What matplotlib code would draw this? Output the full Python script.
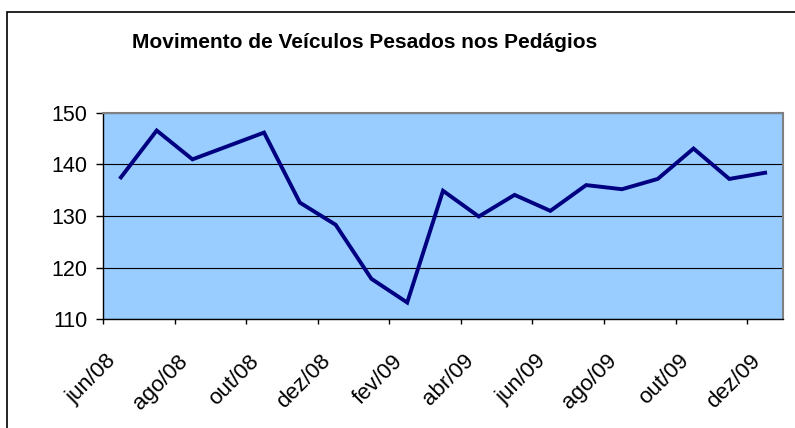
import matplotlib
matplotlib.use("Agg")
import matplotlib.pyplot as plt
import matplotlib.transforms as mtransforms
from matplotlib.patches import Rectangle
import numpy as np

# Monthly data, jun/08 .. dez/09
MONTHS = [
    "jun/08", "jul/08", "ago/08", "set/08", "out/08", "nov/08", "dez/08",
    "jan/09", "fev/09", "mar/09", "abr/09", "mai/09", "jun/09", "jul/09",
    "ago/09", "set/09", "out/09", "nov/09", "dez/09",
]
VALUES = [
    137.5, 146.6, 141.0, 143.6, 146.2, 132.6, 128.3,
    117.8, 113.2, 134.9, 129.9, 134.1, 131.0, 136.0,
    135.2, 137.2, 143.1, 137.2, 138.4,
]
Y_TICKS = [110, 120, 130, 140, 150]
TITLE = "Movimento de Veículos Pesados nos Pedágios"

plt.rcParams["font.family"] = ["Liberation Sans", "DejaVu Sans"]

fig = plt.figure(figsize=(7.95, 4.28), dpi=100)
ax = fig.add_axes([103 / 795, 1 - 319 / 428, 680 / 795, 206 / 428])

x = np.arange(len(MONTHS))
ax.set_facecolor("#99CCFF")
ax.plot(x, VALUES, color="#000080", linewidth=2.8, solid_joinstyle="miter", zorder=3)

ax.set_xlim(-0.5, len(MONTHS) - 0.5)
ax.set_ylim(110, 150)
ax.set_yticks(Y_TICKS)
ax.yaxis.grid(True, color="black", linewidth=0.8)
ax.set_axisbelow(True)

# tick marks at category boundaries, labels at every second category centre
ax.set_xticks(np.arange(-0.5, len(MONTHS) - 1, 2))
ax.set_xticklabels([])
label_tf = mtransforms.offset_copy(ax.get_xaxis_transform(), fig=fig,
                                   x=-8, y=-39, units="dots")
for i in x[::2]:
    ax.text(i, 0, MONTHS[i], transform=label_tf, rotation=45, ha="right",
            va="center", rotation_mode="anchor", fontsize=16)

ax.tick_params(axis="x", which="major", direction="out", length=3.6, width=1, color="black")
ax.tick_params(axis="y", direction="out", length=5, width=1, color="black",
               labelsize=15.5, pad=6)

for side in ("top", "right"):
    ax.spines[side].set_color("#808080")
    ax.spines[side].set_linewidth(1.5)
for side in ("left", "bottom"):
    ax.spines[side].set_color("black")
    ax.spines[side].set_linewidth(1.0)

fig.text(365 / 795, 1 - 43 / 428, TITLE, ha="center", va="center",
         fontsize=15, fontweight="bold")

# outer chart frame (runs off the right and bottom edges)
fig.patches.append(Rectangle((7 / 795, -0.1), 1.2, 1.1 - 12 / 428,
                             transform=fig.transFigure, fill=False,
                             edgecolor="black", linewidth=1.2))

fig.savefig("out.png", dpi=100)
